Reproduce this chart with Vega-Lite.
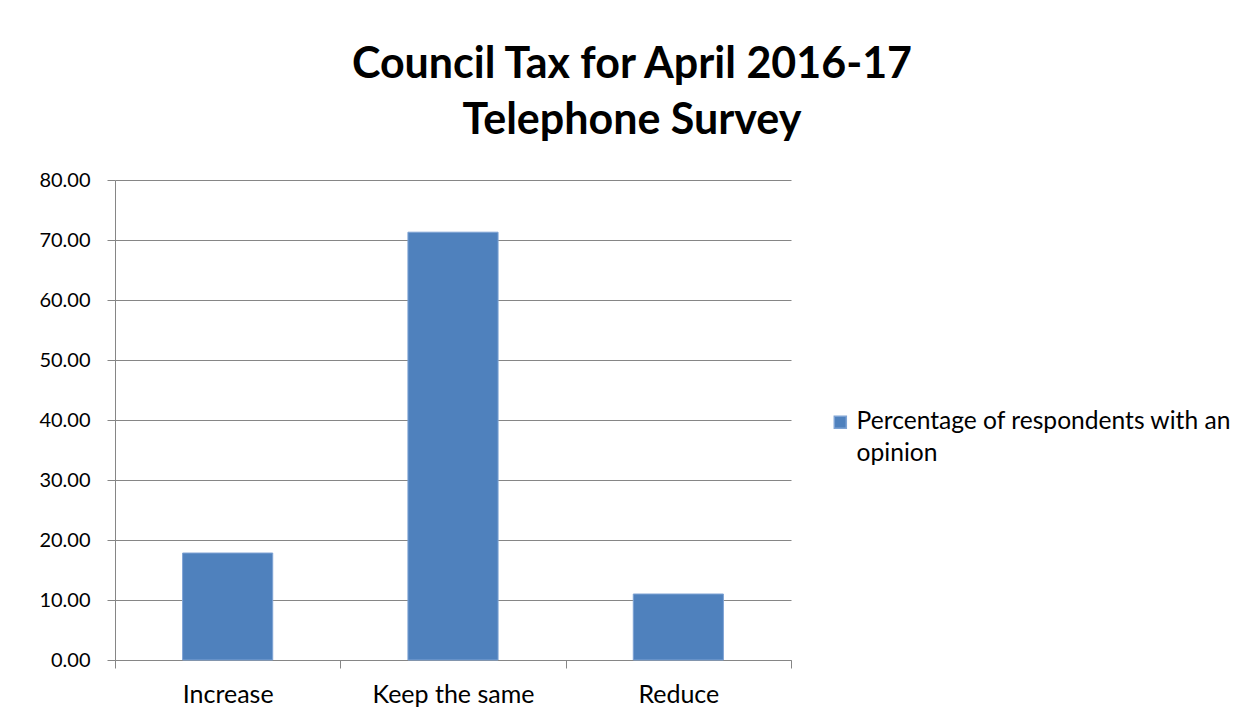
{
  "$schema": "https://vega.github.io/schema/vega-lite/v6.json",
  "autosize": {"type": "none"},
  "width": 676,
  "height": 480,
  "padding": {"left": 115, "top": 180, "right": 451, "bottom": 64},
  "background": "white",
  "title": {
    "text": ["Council Tax for April 2016-17", "Telephone Survey"],
    "font": "Lato",
    "fontSize": 43,
    "fontWeight": "bold",
    "color": "#000000",
    "lineHeight": 56,
    "anchor": "middle",
    "dx": 179,
    "offset": 27
  },
  "data": {
    "values": [
      {"category": "Increase", "value": 17.83, "series": "Percentage of respondents with an opinion"},
      {"category": "Keep the same", "value": 71.3, "series": "Percentage of respondents with an opinion"},
      {"category": "Reduce", "value": 11.0, "series": "Percentage of respondents with an opinion"}
    ]
  },
  "mark": {"type": "bar", "stroke": "#7EA3D4", "strokeWidth": 1, "width": {"band": 0.4}},
  "encoding": {
    "x": {
      "field": "category",
      "type": "nominal",
      "sort": null,
      "scale": {"paddingInner": 0, "paddingOuter": 0},
      "axis": {
        "title": null,
        "labelAngle": 0,
        "labelFont": "Lato",
        "labelFontSize": 25,
        "labelColor": "#000000",
        "labelPadding": 14,
        "domainColor": "#868686",
        "tickColor": "#868686",
        "tickSize": 8,
        "tickBand": "extent",
        "grid": false
      }
    },
    "y": {
      "field": "value",
      "type": "quantitative",
      "scale": {"domain": [0, 80]},
      "axis": {
        "title": null,
        "values": [0, 10, 20, 30, 40, 50, 60, 70, 80],
        "format": ".2f",
        "labelFont": "Lato",
        "labelFontSize": 20,
        "labelColor": "#000000",
        "labelPadding": 17,
        "domainColor": "#868686",
        "tickColor": "#868686",
        "tickSize": 8,
        "gridColor": "#868686",
        "gridWidth": 1
      }
    },
    "color": {
      "field": "series",
      "type": "nominal",
      "scale": {"range": ["#4F81BD"]},
      "legend": {
        "title": null,
        "orient": "none",
        "legendX": 713,
        "legendY": 230,
        "symbolType": "square",
        "symbolSize": 144,
        "labelFont": "Lato",
        "labelFontSize": 24.6,
        "labelColor": "#000000",
        "labelLimit": 500,
        "labelExpr": "['Percentage of respondents with an', 'opinion']"
      }
    }
  },
  "config": {
    "view": {"stroke": null},
    "style": {"guide-label": {"lineHeight": 32}}
  }
}
